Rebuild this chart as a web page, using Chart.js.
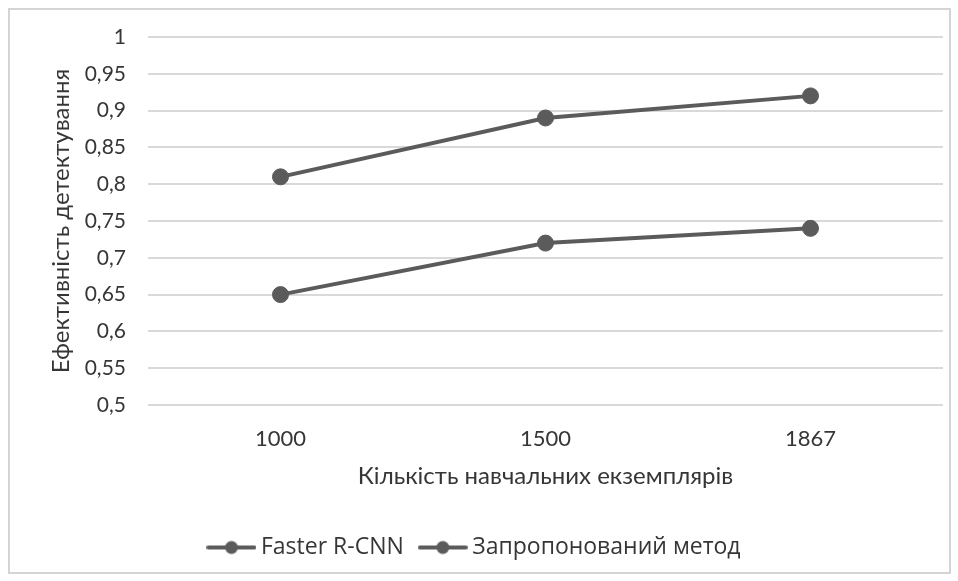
<!DOCTYPE html>
<html lang="uk">
<head>
	<meta charset="UTF-8">
	<title>Ефективність детектування</title>
	<style>
		html, body { margin: 0; padding: 0; background: #fff; }
		#wrap { position: absolute; left: 0; top: 0; width: 958px; height: 581px; }
	</style>
</head>
<body>
	<div id="wrap"><canvas id="myChart" width="958" height="581"></canvas></div>

	<script src="https://cdn.jsdelivr.net/npm/chart.js"></script>
	<script>
		// data
		const categories = ['1000', '1500', '1867'];
		const fasterRcnn = [0.65, 0.72, 0.74];
		const proposed = [0.81, 0.89, 0.92];
		const seriesNames = ['Faster R-CNN', 'Запропонований метод'];

		const lineColor = '#5b5b5b';
		const textColor = '#363636';

		// legend marker: short line with a dot in the middle
		const marker = document.createElement('canvas');
		marker.width = 50;
		marker.height = 16;
		const mctx = marker.getContext('2d');
		mctx.strokeStyle = lineColor;
		mctx.lineWidth = 4;
		mctx.lineCap = 'round';
		mctx.beginPath();
		mctx.moveTo(2, 8);
		mctx.lineTo(48, 8);
		mctx.stroke();
		mctx.fillStyle = lineColor;
		mctx.beginPath();
		mctx.arc(25, 8, 6.5, 0, Math.PI * 2);
		mctx.fill();

		const frame = {
			id: 'frame',
			beforeDraw(chart) {
				const c = chart.ctx;
				c.save();
				c.fillStyle = '#fff';
				c.fillRect(0, 0, chart.width, chart.height);
				c.strokeStyle = '#d4d4d4';
				c.lineWidth = 2;
				c.strokeRect(9, 9, 941, 564);
				c.restore();
			}
		};

		const fmt = v => Number(v.toFixed(2)).toString().replace('.', ',');

		const ctx = document.getElementById('myChart');
		new Chart(ctx, {
			type: 'line',
			data: {
				labels: categories,
				datasets: [{
					label: seriesNames[0],
					data: fasterRcnn,
					borderColor: lineColor,
					backgroundColor: lineColor,
					borderWidth: 4,
					pointRadius: 8,
					pointBorderWidth: 1,
					pointHoverRadius: 8,
					tension: 0
				}, {
					label: seriesNames[1],
					data: proposed,
					borderColor: lineColor,
					backgroundColor: lineColor,
					borderWidth: 4,
					pointRadius: 8,
					pointBorderWidth: 1,
					pointHoverRadius: 8,
					tension: 0
				}]
			},
			options: {
				responsive: false,
				animation: false,
				events: [],
				layout: { padding: { top: 37, right: 15, left: 11, bottom: 12 } },
				plugins: {
					tooltip: { enabled: false },
					legend: {
						position: 'bottom',
						labels: {
							usePointStyle: true,
							pointStyle: marker,
							pointStyleWidth: 36,
							padding: 21,
							color: textColor,
							font: { family: "'Liberation Sans Narrow', 'Open Sans', sans-serif", size: 23 }
						}
					}
				},
				scales: {
					x: {
						offset: true,
						grid: { display: false, drawTicks: false },
						border: { display: false },
						ticks: {
							padding: 21,
							color: textColor,
							font: { family: 'Lato, sans-serif', size: 22 }
						},
						title: {
							display: true,
							text: 'Кількість навчальних екземплярів',
							color: textColor,
							font: { family: 'Lato, sans-serif', size: 24 },
							padding: { top: 0, bottom: 24 }
						},
						afterFit(scale) { scale.height = 110; }
					},
					y: {
						min: 0.5,
						max: 1,
						grid: { color: '#d9d9d9', lineWidth: 2, drawTicks: false },
						border: { display: false },
						ticks: {
							stepSize: 0.05,
							padding: 22,
							color: textColor,
							font: { family: 'Lato, sans-serif', size: 21 },
							callback: v => fmt(v)
						},
						title: {
							display: true,
							text: 'Ефективність детектування',
							color: textColor,
							font: { family: 'Lato, sans-serif', size: 24 },
							padding: { top: 36, bottom: 0 }
						},
						afterFit(scale) { scale.width = 137; }
					}
				}
			},
			plugins: [frame]
		});
	</script>
</body>
</html>
